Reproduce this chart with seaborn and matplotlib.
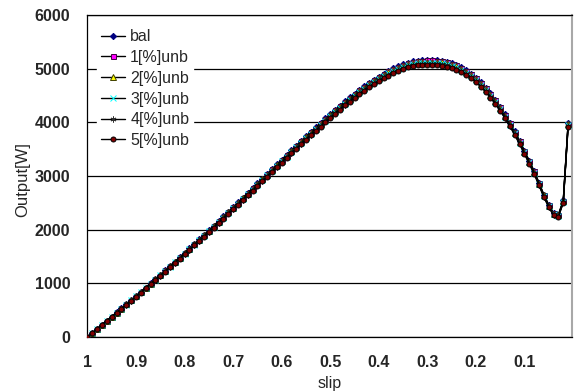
import matplotlib
matplotlib.use("Agg")
import matplotlib.pyplot as plt
import pandas as pd
import seaborn as sns

# slip categories (1.00 down to 0.01)
slip = [round(1 - 0.01 * i, 2) for i in range(100)]

bal = [0, 76, 152, 229, 305, 381, 457, 533, 612, 688,
       766, 844, 922, 1002, 1081, 1160, 1242, 1323, 1404, 1486,
       1569, 1651, 1734, 1818, 1904, 1988, 2074, 2160, 2246, 2334,
       2421, 2508, 2597, 2685, 2774, 2862, 2950, 3039, 3127, 3216,
       3307, 3394, 3482, 3568, 3654, 3740, 3824, 3907, 3992, 4073,
       4152, 4234, 4313, 4390, 4465, 4537, 4608, 4674, 4737, 4797,
       4854, 4908, 4958, 5004, 5045, 5082, 5113, 5135, 5150, 5159,
       5163, 5163, 5158, 5147, 5130, 5104, 5071, 5028, 4973, 4908,
       4833, 4746, 4648, 4540, 4423, 4290, 4148, 3996, 3833, 3658,
       3474, 3284, 3091, 2877, 2654, 2465, 2308, 2282, 2546, 3984]

unb1 = [0, 76, 152, 229, 305, 381, 457, 533, 610, 686,
        764, 842, 920, 1000, 1079, 1158, 1240, 1321, 1402, 1484,
        1567, 1649, 1732, 1816, 1900, 1984, 2070, 2156, 2242, 2330,
        2417, 2504, 2593, 2681, 2770, 2858, 2946, 3035, 3123, 3212,
        3300, 3387, 3475, 3561, 3647, 3733, 3817, 3900, 3985, 4066,
        4145, 4227, 4306, 4383, 4458, 4530, 4599, 4665, 4728, 4788,
        4845, 4899, 4949, 4995, 5036, 5073, 5104, 5126, 5141, 5150,
        5154, 5154, 5149, 5138, 5121, 5095, 5062, 5019, 4964, 4899,
        4824, 4737, 4639, 4531, 4414, 4281, 4139, 3987, 3824, 3649,
        3465, 3278, 3085, 2871, 2648, 2459, 2302, 2276, 2540, 3978]

unb2 = [0, 75, 151, 228, 303, 380, 456, 531, 607, 684,
        761, 838, 917, 996, 1074, 1154, 1235, 1315, 1397, 1479,
        1560, 1643, 1726, 1808, 1893, 1977, 2061, 2148, 2234, 2320,
        2408, 2495, 2582, 2671, 2759, 2846, 2935, 3023, 3110, 3199,
        3287, 3373, 3462, 3547, 3632, 3719, 3802, 3884, 3970, 4050,
        4128, 4211, 4289, 4365, 4441, 4513, 4581, 4646, 4710, 4770,
        4826, 4879, 4930, 4976, 5017, 5053, 5084, 5105, 5120, 5129,
        5133, 5133, 5128, 5117, 5100, 5075, 5042, 5000, 4945, 4879,
        4805, 4719, 4620, 4514, 4397, 4265, 4122, 3972, 3809, 3634,
        3452, 3265, 3072, 2859, 2638, 2450, 2293, 2267, 2530, 3963]

unb3 = [0, 75, 151, 227, 302, 378, 454, 529, 605, 681,
        758, 835, 913, 992, 1070, 1149, 1230, 1310, 1391, 1473,
        1554, 1636, 1719, 1801, 1885, 1969, 2053, 2139, 2225, 2311,
        2398, 2485, 2572, 2660, 2748, 2835, 2923, 3011, 3098, 3186,
        3274, 3360, 3448, 3533, 3618, 3704, 3787, 3869, 3954, 4034,
        4112, 4194, 4272, 4348, 4423, 4495, 4563, 4628, 4691, 4751,
        4807, 4860, 4910, 4956, 4997, 5033, 5064, 5085, 5100, 5109,
        5113, 5113, 5108, 5097, 5080, 5055, 5022, 4980, 4925, 4860,
        4786, 4700, 4602, 4496, 4379, 4248, 4106, 3956, 3794, 3620,
        3438, 3252, 3060, 2848, 2627, 2440, 2284, 2258, 2520, 3947]

unb4 = [0, 75, 150, 226, 301, 377, 452, 527, 602, 678,
        755, 832, 910, 988, 1066, 1145, 1225, 1305, 1386, 1467,
        1548, 1630, 1712, 1794, 1878, 1961, 2045, 2131, 2216, 2302,
        2389, 2475, 2562, 2650, 2737, 2824, 2912, 2999, 3086, 3174,
        3261, 3347, 3434, 3519, 3604, 3689, 3772, 3854, 3938, 4018,
        4096, 4177, 4255, 4331, 4406, 4477, 4545, 4610, 4673, 4732,
        4788, 4841, 4891, 4936, 4977, 5013, 5044, 5065, 5080, 5089,
        5093, 5093, 5088, 5077, 5060, 5035, 5002, 4960, 4906, 4841,
        4767, 4681, 4584, 4478, 4362, 4231, 4090, 3940, 3779, 3606,
        3424, 3239, 3048, 2837, 2617, 2430, 2275, 2249, 2510, 3931]

unb5 = [0, 75, 150, 225, 300, 375, 450, 525, 600, 675,
        752, 829, 906, 984, 1062, 1140, 1220, 1300, 1380, 1461,
        1542, 1623, 1705, 1787, 1870, 1953, 2037, 2122, 2207, 2293,
        2379, 2465, 2552, 2639, 2726, 2813, 2900, 2987, 3074, 3161,
        3248, 3334, 3420, 3505, 3590, 3674, 3757, 3839, 3922, 4002,
        4080, 4160, 4238, 4314, 4388, 4459, 4527, 4592, 4654, 4713,
        4769, 4822, 4871, 4916, 4957, 4993, 5024, 5045, 5060, 5069,
        5073, 5073, 5068, 5057, 5040, 5015, 4982, 4940, 4886, 4822,
        4748, 4662, 4566, 4460, 4344, 4214, 4074, 3924, 3764, 3592,
        3410, 3226, 3036, 2826, 2606, 2420, 2266, 2240, 2500, 3915]

series_names = ["bal", "1[%]unb", "2[%]unb", "3[%]unb", "4[%]unb", "5[%]unb"]
series_vals = [bal, unb1, unb2, unb3, unb4, unb5]
yticks = [0, 1000, 2000, 3000, 4000, 5000, 6000]

styles = [
    dict(marker="D", ms=3.2, mfc="#000080", mec="#000080"),
    dict(marker="s", ms=3.6, mfc="#FF00FF", mec="#400040"),
    dict(marker="^", ms=3.8, mfc="#FFFF00", mec="#404000"),
    dict(marker="x", ms=3.8, mfc="#00FFFF", mec="#00FFFF"),
    dict(marker=(6, 2, 0), ms=4.2, mfc="#800080", mec="#303030"),
    dict(marker="o", ms=3.6, mfc="#800000", mec="#000000"),
]

sns.set_style("white")
plt.rcParams["font.family"] = ["Liberation Sans", "DejaVu Sans"]

fig = plt.figure(figsize=(5.74, 3.92), dpi=100)
ax = fig.add_axes([87 / 574, 1 - 337 / 392, 485 / 574, 322 / 392])

pos = list(range(len(slip)))
for name, vals, st in zip(series_names, series_vals, styles):
    df = pd.DataFrame({"pos": pos, "Output": vals})
    sns.lineplot(data=df, x="pos", y="Output", ax=ax, color="black",
                 linewidth=1.0, marker=st["marker"], markersize=st["ms"],
                 markerfacecolor=st["mfc"], markeredgecolor=st["mec"],
                 markeredgewidth=0.7, label=name, zorder=3)

ax.set_ylim(0, 6000)
ax.set_xlim(-0.1, 99.8)
ax.set_yticks(yticks)
ax.set_yticklabels([str(v) for v in yticks], fontsize=11.5, fontweight="bold")
ax.set_xticks(pos)
ax.set_xticklabels([f"{s:g}" if i % 10 == 0 else "" for i, s in enumerate(slip)],
                   fontsize=11.5, fontweight="bold")
ax.tick_params(axis="x", direction="in", length=4, width=0.8, color="black", pad=13)
ax.tick_params(axis="y", length=0, pad=12)

ax.yaxis.grid(True, color="black", linewidth=0.9)
ax.xaxis.grid(False)
ax.set_axisbelow(True)

for side in ["left", "bottom", "top"]:
    ax.spines[side].set_color("black")
    ax.spines[side].set_linewidth(0.9)
ax.spines["right"].set_color("#a8a8a8")
ax.spines["right"].set_linewidth(1.5)

ax.set_xlabel("slip", fontsize=11.5)
ax.set_ylabel("Output[W]", fontsize=12)
ax.xaxis.set_label_coords(0.5, -0.122)
ax.yaxis.set_label_coords(-0.116, 0.49)

leg = ax.legend(loc="upper left", bbox_to_anchor=(0.02, 0.968), frameon=True,
                fontsize=11.5, handlelength=1.55, handletextpad=0.3,
                labelspacing=0.36, borderpad=0.25, borderaxespad=0)
leg.get_frame().set_facecolor("white")
leg.get_frame().set_edgecolor("white")
leg.get_frame().set_alpha(1)

fig.savefig("out.png", dpi=100)
